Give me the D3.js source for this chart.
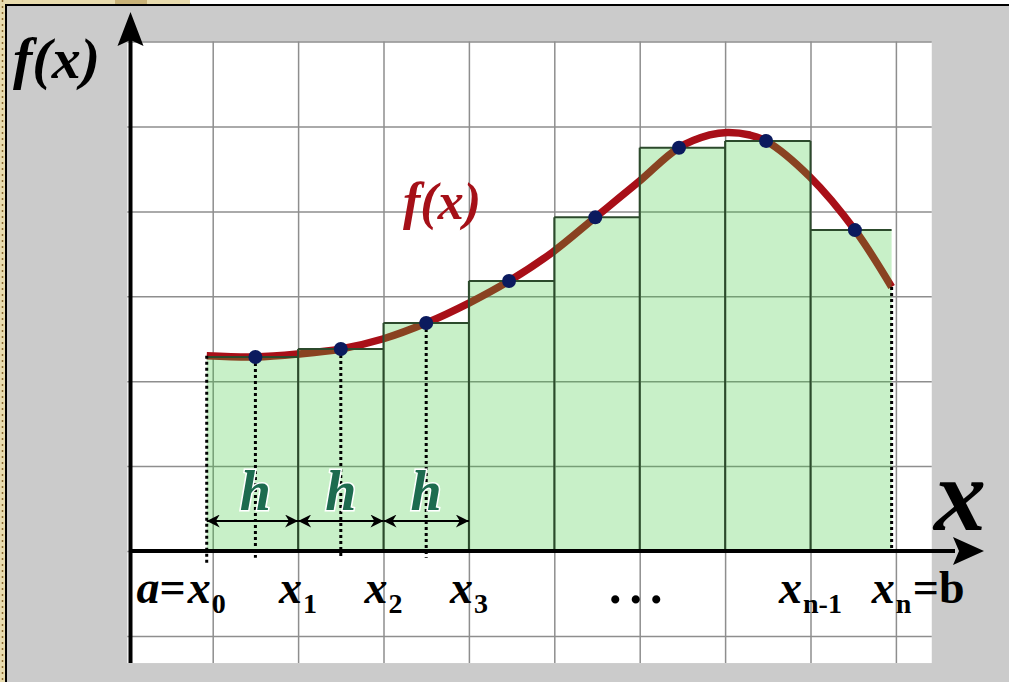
<!DOCTYPE html>
<html>
<head>
<meta charset="utf-8">
<script src="https://cdn.jsdelivr.net/npm/d3@7"></script>
<style>
  html, body { margin: 0; padding: 0; background: #cbcbcb; }
  svg { display: block; }
  text { font-family: "Liberation Serif", "Times New Roman", serif; font-weight: bold; }
</style>
</head>
<body>
<svg id="chart" width="1009" height="682"></svg>
<script>
// curve f(x), in grid units (one unit = one grid cell)
var curveX = [0.93, 1.5, 2.0, 2.5, 3.0, 3.5, 4.0, 4.47, 4.98, 5.48, 5.99, 6.46, 6.82, 7.03, 7.29, 7.48, 7.99, 8.52, 8.95];
var curveY = [2.30, 2.285, 2.32, 2.38, 2.50, 2.685, 2.92, 3.18, 3.52, 3.93, 4.35, 4.75, 4.90, 4.93, 4.90, 4.83, 4.41, 3.78, 3.11];

// rectangles: edges x0..xn and heights f(midpoint)
var edges = [0.93, 2, 3, 4, 5, 6, 7, 8, 8.95];
var mids = [1.5, 2.5, 3.5, 4.47, 5.48, 6.46, 7.48, 8.52];
var heights = [2.285, 2.38, 2.685, 3.18, 3.93, 4.75, 4.83, 3.78];

// grid lines
var gridX = [1, 2, 3, 4, 5, 6, 7, 8, 9];
var gridY = [-1, 0, 1, 2, 3, 4, 5, 6];

// tick labels under the x axis
var tickPos = [0.93, 2, 3, 4, 8, 8.95];
var tickSub = ["0", "1", "2", "3", "n-1", "n"];
var tickPre = ["a=", "", "", "", "", ""];
var tickPost = ["", "", "", "", "", "=b"];
var hSteps = [0, 1, 2]; // first three steps marked with h

var svg = d3.select("#chart");
var W = 1009, H = 682;

var x = d3.scaleLinear().domain([0, 10]).range([127.3, 981.3]);
var y = d3.scaleLinear().domain([0, 6]).range([551, 41.6]);

// page frame
svg.append("rect").attr("width", W).attr("height", H).attr("fill", "#cbcbcb");
svg.append("rect").attr("width", W).attr("height", 4).attr("fill", "#fff");
svg.append("rect").attr("width", 190).attr("height", 4).attr("fill", "#e9dcae");
svg.append("rect").attr("x", 115).attr("width", 32).attr("height", 4).attr("fill", "#c9b277");
svg.append("rect").attr("width", 5).attr("height", H).attr("fill", "#e9dcae");
svg.append("line").attr("x1", 2.5).attr("x2", 2.5).attr("y1", 0).attr("y2", H)
  .attr("stroke", "#8a6a30").attr("stroke-width", 1.5).attr("stroke-dasharray", "2,4");
svg.append("line").attr("x1", 5).attr("x2", W).attr("y1", 5).attr("y2", 5)
  .attr("stroke", "#000").attr("stroke-width", 2);
svg.append("line").attr("x1", 6).attr("x2", 6).attr("y1", 4).attr("y2", H)
  .attr("stroke", "#000").attr("stroke-width", 2);

// white plot area
var px0 = x(0), px1 = x(9.42), py0 = y(6), py1 = y(-1.32);
svg.append("rect")
  .attr("x", px0).attr("y", py0)
  .attr("width", px1 - px0).attr("height", py1 - py0)
  .attr("fill", "#fff");

// grid through axes
var gx = svg.append("g")
  .attr("transform", "translate(0," + py1 + ")")
  .call(d3.axisBottom(x).tickValues(gridX).tickSize(-(py1 - py0)).tickFormat(""));
var gy = svg.append("g")
  .attr("transform", "translate(" + px0 + ",0)")
  .call(d3.axisLeft(y).tickValues(gridY).tickSize(-(px1 - px0)).tickFormat(""));
[gx, gy].forEach(function(g) {
  g.select(".domain").remove();
  g.selectAll("line").attr("stroke", "#8e8e8e").attr("stroke-width", 1.5);
});

// f(x) curve (drawn under the translucent bars, which turns it brown there)
var line = d3.line()
  .x(function(d) { return x(d[0]); })
  .y(function(d) { return y(d[1]); })
  .curve(d3.curveCatmullRom);
svg.append("path")
  .datum(d3.zip(curveX, curveY))
  .attr("d", line)
  .attr("fill", "none")
  .attr("stroke", "#a80f18")
  .attr("stroke-width", 7.5)
  .attr("stroke-linecap", "butt");

// bars
var bars = heights.map(function(h, i) { return {x0: edges[i], x1: edges[i + 1], h: h}; });
svg.selectAll(".bar")
  .data(bars)
  .enter().append("rect")
  .attr("class", "bar")
  .attr("x", function(d) { return x(d.x0); })
  .attr("y", function(d) { return y(d.h); })
  .attr("width", function(d) { return x(d.x1) - x(d.x0); })
  .attr("height", function(d) { return y(0) - y(d.h); })
  .attr("fill", "rgb(58,200,58)")
  .attr("fill-opacity", 0.28);

var edgeCol = "#2c4a2c";
// tops
svg.selectAll(".btop")
  .data(bars)
  .enter().append("line")
  .attr("x1", function(d) { return x(d.x0); })
  .attr("x2", function(d) { return x(d.x1); })
  .attr("y1", function(d) { return y(d.h); })
  .attr("y2", function(d) { return y(d.h); })
  .attr("stroke", edgeCol).attr("stroke-width", 2);
// inner sides
svg.selectAll(".bside")
  .data(edges.slice(1, -1))
  .enter().append("line")
  .attr("x1", function(d) { return x(d); })
  .attr("x2", function(d) { return x(d); })
  .attr("y1", y(0))
  .attr("y2", function(d, i) { return y(Math.max(heights[i], heights[i + 1])); })
  .attr("stroke", edgeCol).attr("stroke-width", 2);

// dotted verticals
var dotted = [
  {x: edges[0], top: curveY[0], bot: -0.14},
  {x: mids[0], top: heights[0], bot: -0.08},
  {x: mids[1], top: heights[1], bot: -0.08},
  {x: mids[2], top: heights[2], bot: -0.08},
  {x: edges[8], top: curveY[curveY.length - 1], bot: 0}
];
svg.selectAll(".dot-v")
  .data(dotted)
  .enter().append("line")
  .attr("x1", function(d) { return x(d.x); })
  .attr("x2", function(d) { return x(d.x); })
  .attr("y1", function(d) { return y(d.top); })
  .attr("y2", function(d) { return y(d.bot); })
  .attr("stroke", "#000").attr("stroke-width", 3)
  .attr("stroke-dasharray", "3,3");

// nodes
svg.selectAll(".node")
  .data(mids)
  .enter().append("circle")
  .attr("cx", function(d) { return x(d); })
  .attr("cy", function(d, i) { return y(heights[i]); })
  .attr("r", 7)
  .attr("fill", "#0b1a5e");

// h arrows
var defs = svg.append("defs");
defs.append("marker")
  .attr("id", "ah").attr("viewBox", "0 0 10 10")
  .attr("refX", 10).attr("refY", 5)
  .attr("markerWidth", 18).attr("markerHeight", 13)
  .attr("markerUnits", "userSpaceOnUse")
  .attr("orient", "auto-start-reverse")
  .append("path").attr("d", "M0,0 L10,5 L0,10 L3,5 Z").attr("fill", "#000");

var hy = 0.353;
svg.selectAll(".harrow")
  .data(hSteps)
  .enter().append("line")
  .attr("x1", function(i) { return x(edges[i]); })
  .attr("x2", function(i) { return x(edges[i + 1]); })
  .attr("y1", y(hy)).attr("y2", y(hy))
  .attr("stroke", "#000").attr("stroke-width", 2)
  .attr("marker-start", "url(#ah)")
  .attr("marker-end", "url(#ah)");

svg.selectAll(".hlab")
  .data(hSteps)
  .enter().append("text")
  .attr("x", function(i) { return x(mids[i]); })
  .attr("y", y(0.483))
  .attr("text-anchor", "middle")
  .attr("font-size", 56)
  .attr("font-style", "italic")
  .attr("fill", "#1d6b4f")
  .attr("stroke", "#fff").attr("stroke-width", 3)
  .attr("paint-order", "stroke")
  .text("h");

// axes with arrows
svg.append("line")
  .attr("x1", x(0.02)).attr("x2", 955)
  .attr("y1", y(0)).attr("y2", y(0))
  .attr("stroke", "#000").attr("stroke-width", 4);
svg.append("path")
  .attr("d", "M953," + (y(0) - 14) + " L984," + y(0) + " L953," + (y(0) + 14) + " L959," + y(0) + " Z")
  .attr("fill", "#000");
svg.append("line")
  .attr("x1", 130.5).attr("x2", 130.5)
  .attr("y1", py1).attr("y2", 40)
  .attr("stroke", "#000").attr("stroke-width", 4);
svg.append("path")
  .attr("d", "M117.5,46 L130.5,12 L143.5,46 L130.5,40 Z")
  .attr("fill", "#000");

// tick labels
var labels = svg.append("g");
tickPos.forEach(function(p, i) {
  var t = labels.append("text")
    .attr("x", x(p)).attr("y", 603)
    .attr("text-anchor", "middle")
    .attr("fill", "#000");
  t.append("tspan").attr("font-size", 46).attr("font-style", "italic").text("x");
  t.append("tspan").attr("font-size", 28).attr("dy", 10).attr("dx", 1).text(tickSub[i]);
  var bb = t.node().getBBox();
  if (tickPre[i]) {
    var pre = labels.append("text")
      .attr("x", bb.x - 1).attr("y", 603)
      .attr("text-anchor", "end").attr("font-size", 46);
    pre.append("tspan").attr("font-style", "italic").text(tickPre[i][0]);
    pre.append("tspan").text(tickPre[i].slice(1));
  }
  if (tickPost[i]) {
    labels.append("text")
      .attr("x", bb.x + bb.width + 1).attr("y", 603)
      .attr("font-size", 46)
      .text(tickPost[i]);
  }
});
labels.append("text")
  .attr("x", x(6)).attr("y", 603)
  .attr("text-anchor", "middle")
  .attr("font-size", 50)
  .attr("letter-spacing", 8)
  .text("...");

// axis titles
svg.append("text")
  .attr("x", 13).attr("y", 78)
  .attr("font-size", 58).attr("font-style", "italic")
  .text("f(x)");
svg.append("text")
  .attr("x", 960).attr("y", 530)
  .attr("text-anchor", "middle")
  .attr("font-size", 104).attr("font-style", "italic")
  .text("x");

// curve label
svg.append("text")
  .attr("x", 442).attr("y", 219)
  .attr("text-anchor", "middle")
  .attr("font-size", 52).attr("font-style", "italic")
  .attr("fill", "#a51018")
  .text("f(x)");
</script>
</body>
</html>
